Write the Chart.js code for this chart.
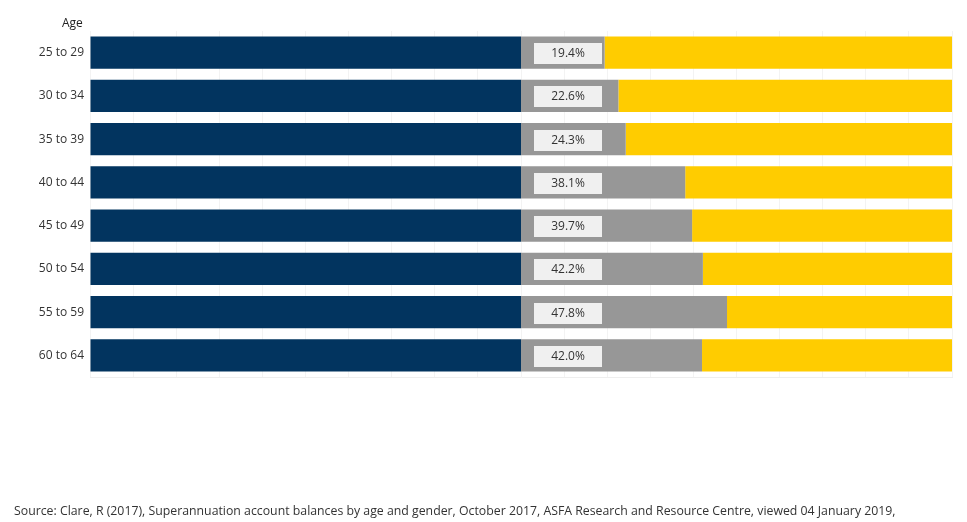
<!DOCTYPE html>
<html>
<head>
<meta charset="utf-8">
<script src="https://cdn.jsdelivr.net/npm/chart.js@4"></script>
<style>
html,body{margin:0;padding:0;background:#fff;}
#wrap{position:relative;width:967px;height:522px;}
#source{position:absolute;left:14px;top:502px;font-family:"Open Sans",sans-serif;font-size:12.3px;color:#333;white-space:nowrap;}
#age{position:absolute;left:62px;top:14px;font-family:"Open Sans",sans-serif;font-size:12px;color:#222;}
</style>
</head>
<body>
<div id="wrap">
<canvas id="c" width="967" height="522"></canvas>
<div id="age">Age</div>
<div id="source">Source: Clare, R (2017), Superannuation account balances by age and gender, October 2017, ASFA Research and Resource Centre, viewed 04 January 2019,</div>
</div>
<script>
const categories = ['25 to 29','30 to 34','35 to 39','40 to 44','45 to 49','50 to 54','55 to 59','60 to 64'];
const menBase = [100,100,100,100,100,100,100,100];
const gapValues = [19.4,22.6,24.3,38.1,39.7,42.2,47.8,42.0];
const remainder = [80.6,77.4,75.7,61.9,60.3,57.8,52.2,58.0];
const gapLabels = ['19.4%','22.6%','24.3%','38.1%','39.7%','42.2%','47.8%','42.0%'];

const labelPlugin = {
  id:'gapLabels',
  afterDatasetsDraw(chart){
    const ctx = chart.ctx;
    const meta = chart.getDatasetMeta(1);
    ctx.save();
    meta.data.forEach((bar,i)=>{
      const left = Math.min(bar.x, bar.base);
      const cx = left + 47;
      const cy = bar.y + 1;
      const w = 68, h = 21;
      ctx.fillStyle = '#f0f0f0';
      ctx.fillRect(Math.round(cx - w/2), Math.round(cy - h/2), w, h);
      ctx.fillStyle = '#333333';
      ctx.font = '12px "Open Sans", sans-serif';
      ctx.textAlign = 'center';
      ctx.textBaseline = 'middle';
      ctx.fillText(gapLabels[i], cx, cy);
    });
    ctx.restore();
  }
};

new Chart(document.getElementById('c'), {
  type:'bar',
  data:{
    labels: categories,
    datasets:[
      {label:'Men', data: menBase, backgroundColor:'#02345f', barPercentage:0.744, categoryPercentage:1},
      {label:'Gap', data: gapValues, backgroundColor:'#979797', barPercentage:0.744, categoryPercentage:1},
      {label:'Women', data: remainder, backgroundColor:'#ffcc00', barPercentage:0.744, categoryPercentage:1}
    ]
  },
  options:{
    indexAxis:'y',
    responsive:false,
    animation:false,
    devicePixelRatio:1,
    layout:{padding:{top:31,bottom:145,right:15,left:0}},
    plugins:{legend:{display:false},tooltip:{enabled:false}},
    scales:{
      x:{
        stacked:true, min:0, max:200,
        ticks:{display:false, stepSize:10},
        grid:{color:'#f3f3f3', drawTicks:false},
        border:{display:true, color:'#eeeeee'}
      },
      y:{
        stacked:true,
        grid:{display:false, drawTicks:false},
        border:{display:false},
        ticks:{color:'#333', padding:6, font:{family:'"Open Sans", sans-serif', size:12}},
        afterFit(scale){ scale.width = 90; }
      }
    }
  },
  plugins:[labelPlugin]
});
</script>
</body>
</html>
